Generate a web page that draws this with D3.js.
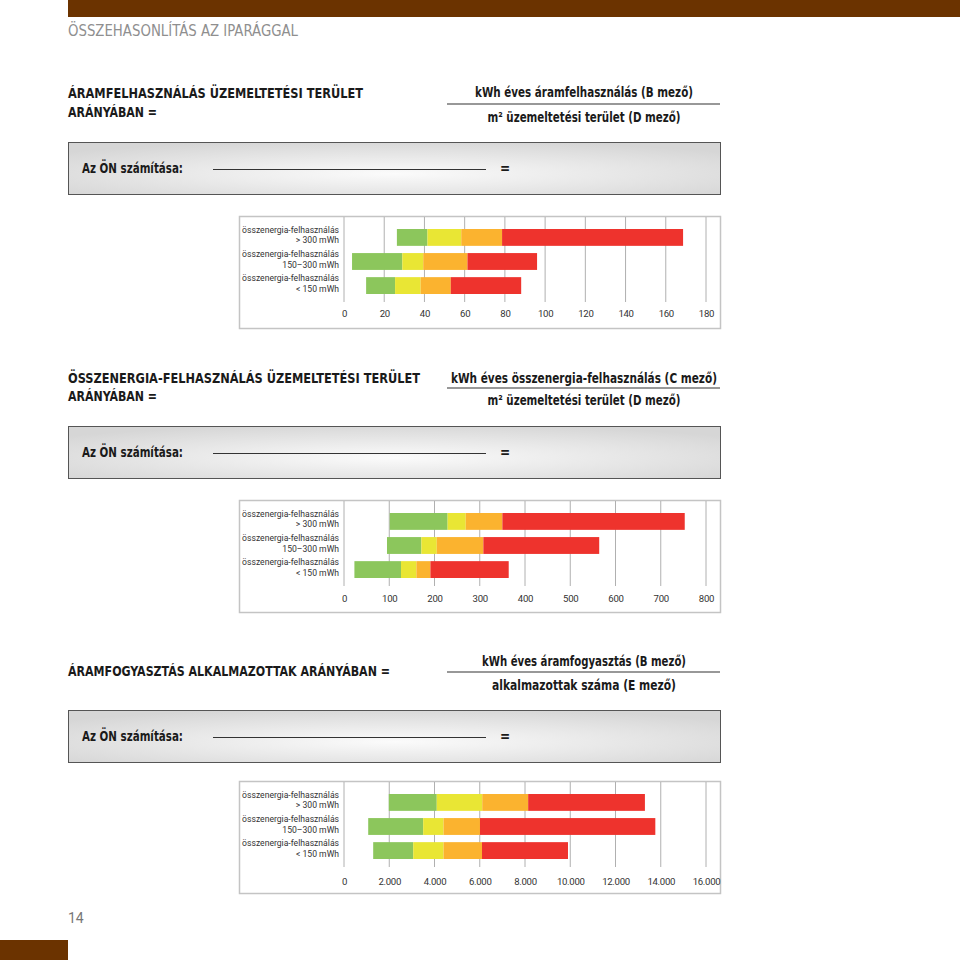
<!DOCTYPE html>
<html><head><meta charset="utf-8">
<script src="https://cdn.jsdelivr.net/npm/d3@7"></script>
<style>
html,body{margin:0;padding:0;background:#fff;}
svg{display:block;}
</style></head>
<body>
<script>
// ---------- DATA ----------
const categories = [
  ["összenergia-felhasználás", "> 300 mWh"],
  ["összenergia-felhasználás", "150–300 mWh"],
  ["összenergia-felhasználás", "< 150 mWh"]
];
const seriesNames = ["offset", "green", "yellow", "orange", "red"];
// chart 1: áramfelhasználás / m²
const c1Offset = [26.3, 4, 11];
const c1Green  = [15.2, 25, 14.4];
const c1Yellow = [16.8, 10.4, 12.7];
const c1Orange = [20.3, 22, 15];
const c1Red    = [90, 34.6, 35];
const c1Ticks  = [0, 20, 40, 60, 80, 100, 120, 140, 160, 180];
const c1TickLabels = ["0","20","40","60","80","100","120","140","160","180"];
// chart 2: összenergia-felhasználás / m²
const c2Offset = [101, 95, 23];
const c2Green  = [128, 76, 103];
const c2Yellow = [40, 34, 34];
const c2Orange = [81, 103, 31];
const c2Red    = [403, 256, 173];
const c2Ticks  = [0, 100, 200, 300, 400, 500, 600, 700, 800];
const c2TickLabels = ["0","100","200","300","400","500","600","700","800"];
// chart 3: áramfogyasztás / alkalmazott
const c3Offset = [1980, 1070, 1290];
const c3Green  = [2120, 2430, 1770];
const c3Yellow = [2010, 900, 1340];
const c3Orange = [2030, 1610, 1700];
const c3Red    = [5160, 7750, 3800];
const c3Ticks  = [0, 2000, 4000, 6000, 8000, 10000, 12000, 14000, 16000];
const c3TickLabels = ["0","2.000","4.000","6.000","8.000","10.000","12.000","14.000","16.000"];

const pageTitle = "ÖSSZEHASONLÍTÁS AZ IPARÁGGAL";
const sections = [
  {title:["ÁRAMFELHASZNÁLÁS ÜZEMELTETÉSI TERÜLET","ARÁNYÁBAN ="], num:"kWh éves áramfelhasználás (B mező)", den:"m² üzemeltetési terület (D mező)"},
  {title:["ÖSSZENERGIA-FELHASZNÁLÁS ÜZEMELTETÉSI TERÜLET","ARÁNYÁBAN ="], num:"kWh éves összenergia-felhasználás (C mező)", den:"m² üzemeltetési terület (D mező)"},
  {title:["ÁRAMFOGYASZTÁS ALKALMAZOTTAK ARÁNYÁBAN ="], num:"kWh éves áramfogyasztás (B mező)", den:"alkalmazottak száma (E mező)"}
];
const calcLabel = "Az ÖN számítása:";
const pageNumber = "14";

// ---------- STYLE / LAYOUT ----------
const colors = {green:"#8cc65c", yellow:"#e9e634", orange:"#fbb32f", red:"#ee332d"};
const brown = "#6b3300";
const condensed = "'Liberation Sans Narrow','DejaVu Sans Condensed','Roboto',sans-serif";
const plain = "'Roboto','Noto Sans',sans-serif";

const svg = d3.select("body").append("svg").attr("width",960).attr("height",960);

const defs = svg.append("defs");
const grad = defs.append("radialGradient").attr("id","boxgrad")
  .attr("cx","50%").attr("cy","60%").attr("r","65%");
grad.append("stop").attr("offset","0%").attr("stop-color","#fbfbfb");
grad.append("stop").attr("offset","100%").attr("stop-color","#d6d6d6");

// top & bottom brown bars
svg.append("rect").attr("x",68).attr("y",0).attr("width",892).attr("height",17).attr("fill",brown);
svg.append("rect").attr("x",0).attr("y",940).attr("width",68).attr("height",20).attr("fill",brown);

svg.append("text").attr("x",68).attr("y",36).text(pageTitle)
  .attr("font-family",condensed).attr("font-size",15).attr("fill","#8f8f8f")
  .attr("textLength",230).attr("lengthAdjust","spacingAndGlyphs");

svg.append("text").attr("x",68).attr("y",923).text(pageNumber)
  .attr("font-family",plain).attr("font-size",14).attr("fill","#777");

const layout = [
  {titleY:[98,117], titleW:[295,89], numY:97, lineY:104, denY:122, numW:218, denW:193, boxY:142, chartY:216, tickY:94},
  {titleY:[383,401], titleW:[352,89], numY:383, lineY:388, denY:405, numW:266, denW:193, boxY:426, chartY:500, tickY:95},
  {titleY:[676], titleW:[322], numY:666, lineY:672, denY:690, numW:204, denW:184, boxY:710, chartY:781, tickY:97}
];

const chartData = [
  {offset:c1Offset, green:c1Green, yellow:c1Yellow, orange:c1Orange, red:c1Red, ticks:c1Ticks, labels:c1TickLabels},
  {offset:c2Offset, green:c2Green, yellow:c2Yellow, orange:c2Orange, red:c2Red, ticks:c2Ticks, labels:c2TickLabels},
  {offset:c3Offset, green:c3Green, yellow:c3Yellow, orange:c3Orange, red:c3Red, ticks:c3Ticks, labels:c3TickLabels}
];

sections.forEach((s,i)=>{
  const L = layout[i];
  // title
  s.title.forEach((t,j)=>{
    svg.append("text").attr("x",68).attr("y",L.titleY[j]).text(t)
      .attr("font-family",condensed).attr("font-weight","bold").attr("font-size",14).attr("fill","#1a1a1a")
      .attr("textLength",L.titleW[j]).attr("lengthAdjust","spacingAndGlyphs");
  });
  // fraction
  const cx = 584;
  svg.append("text").attr("x",cx).attr("y",L.numY).attr("text-anchor","middle").text(s.num)
    .attr("font-family",condensed).attr("font-weight","bold").attr("font-size",13.5).attr("fill","#1a1a1a")
    .attr("textLength",L.numW).attr("lengthAdjust","spacingAndGlyphs");
  svg.append("line").attr("x1",447).attr("x2",720).attr("y1",L.lineY).attr("y2",L.lineY)
    .attr("stroke","#333").attr("stroke-width",1.2);
  svg.append("text").attr("x",cx).attr("y",L.denY).attr("text-anchor","middle").text(s.den)
    .attr("font-family",condensed).attr("font-weight","bold").attr("font-size",13.5).attr("fill","#1a1a1a")
    .attr("textLength",L.denW).attr("lengthAdjust","spacingAndGlyphs");

  // calculation box
  svg.append("rect").attr("x",68.5).attr("y",L.boxY+0.5).attr("width",652).attr("height",52)
    .attr("fill","url(#boxgrad)").attr("stroke","#555").attr("stroke-width",1);
  svg.append("text").attr("x",82).attr("y",L.boxY+31).text(calcLabel)
    .attr("font-family",condensed).attr("font-weight","bold").attr("font-size",13.5).attr("fill","#1a1a1a")
    .attr("textLength",101).attr("lengthAdjust","spacingAndGlyphs");
  svg.append("line").attr("x1",213).attr("x2",486).attr("y1",L.boxY+27.5).attr("y2",L.boxY+27.5)
    .attr("stroke","#333").attr("stroke-width",1);
  svg.append("text").attr("x",500).attr("y",L.boxY+31).text("=")
    .attr("font-family",condensed).attr("font-weight","bold").attr("font-size",13.5).attr("fill","#1a1a1a");

  // chart box
  const top = L.chartY;
  svg.append("rect").attr("x",239.5).attr("y",top+0.5).attr("width",481).attr("height",112)
    .attr("fill","#fff").attr("stroke","#c4c4c4").attr("stroke-width",1.5);

  const D = chartData[i];
  const x = d3.scaleLinear().domain([D.ticks[0], D.ticks[D.ticks.length-1]]).range([344,706]);
  const y = d3.scaleBand().domain(d3.range(categories.length)).range([top+13, top+78]).paddingInner(0.3).paddingOuter(0);

  const g = svg.append("g");
  // gridlines
  g.selectAll("line.grid").data(D.ticks).join("line")
    .attr("x1",d=>x(d)).attr("x2",d=>x(d)).attr("y1",top+1).attr("y2",top+86)
    .attr("stroke","#b0b0b0").attr("stroke-width",1);

  // stacked bars
  const rows = categories.map((c,k)=>({k, offset:D.offset[k], green:D.green[k], yellow:D.yellow[k], orange:D.orange[k], red:D.red[k]}));
  const stack = d3.stack().keys(seriesNames)(rows);
  stack.filter(s=>s.key!=="offset").forEach(layer=>{
    g.selectAll(null).data(layer).join("rect")
      .attr("x",d=>x(d[0])).attr("width",d=>x(d[1])-x(d[0]))
      .attr("y",d=>y(d.data.k)).attr("height",y.bandwidth())
      .attr("fill",colors[layer.key]);
  });

  // category labels
  categories.forEach((c,k)=>{
    const yc = y(k)+y.bandwidth()/2;
    svg.append("text").attr("x",339).attr("y",yc-4.5).attr("text-anchor","end").text(c[0])
      .attr("font-family",plain).attr("font-size",8.6).attr("fill","#333");
    svg.append("text").attr("x",339).attr("y",yc+6).attr("text-anchor","end").text(c[1])
      .attr("font-family",plain).attr("font-size",8.6).attr("fill","#333");
  });

  // axis tick labels
  const axis = d3.axisBottom(x).tickValues(D.ticks).tickFormat((d,j)=>D.labels[j]).tickSize(0).tickPadding(0);
  const ag = svg.append("g").attr("transform",`translate(0,${top+L.tickY})`).call(axis);
  ag.select(".domain").remove();
  ag.selectAll("text").attr("font-family",plain).attr("font-size",9.6).attr("letter-spacing","-0.3").attr("fill","#333");
});
</script>
</body></html>
